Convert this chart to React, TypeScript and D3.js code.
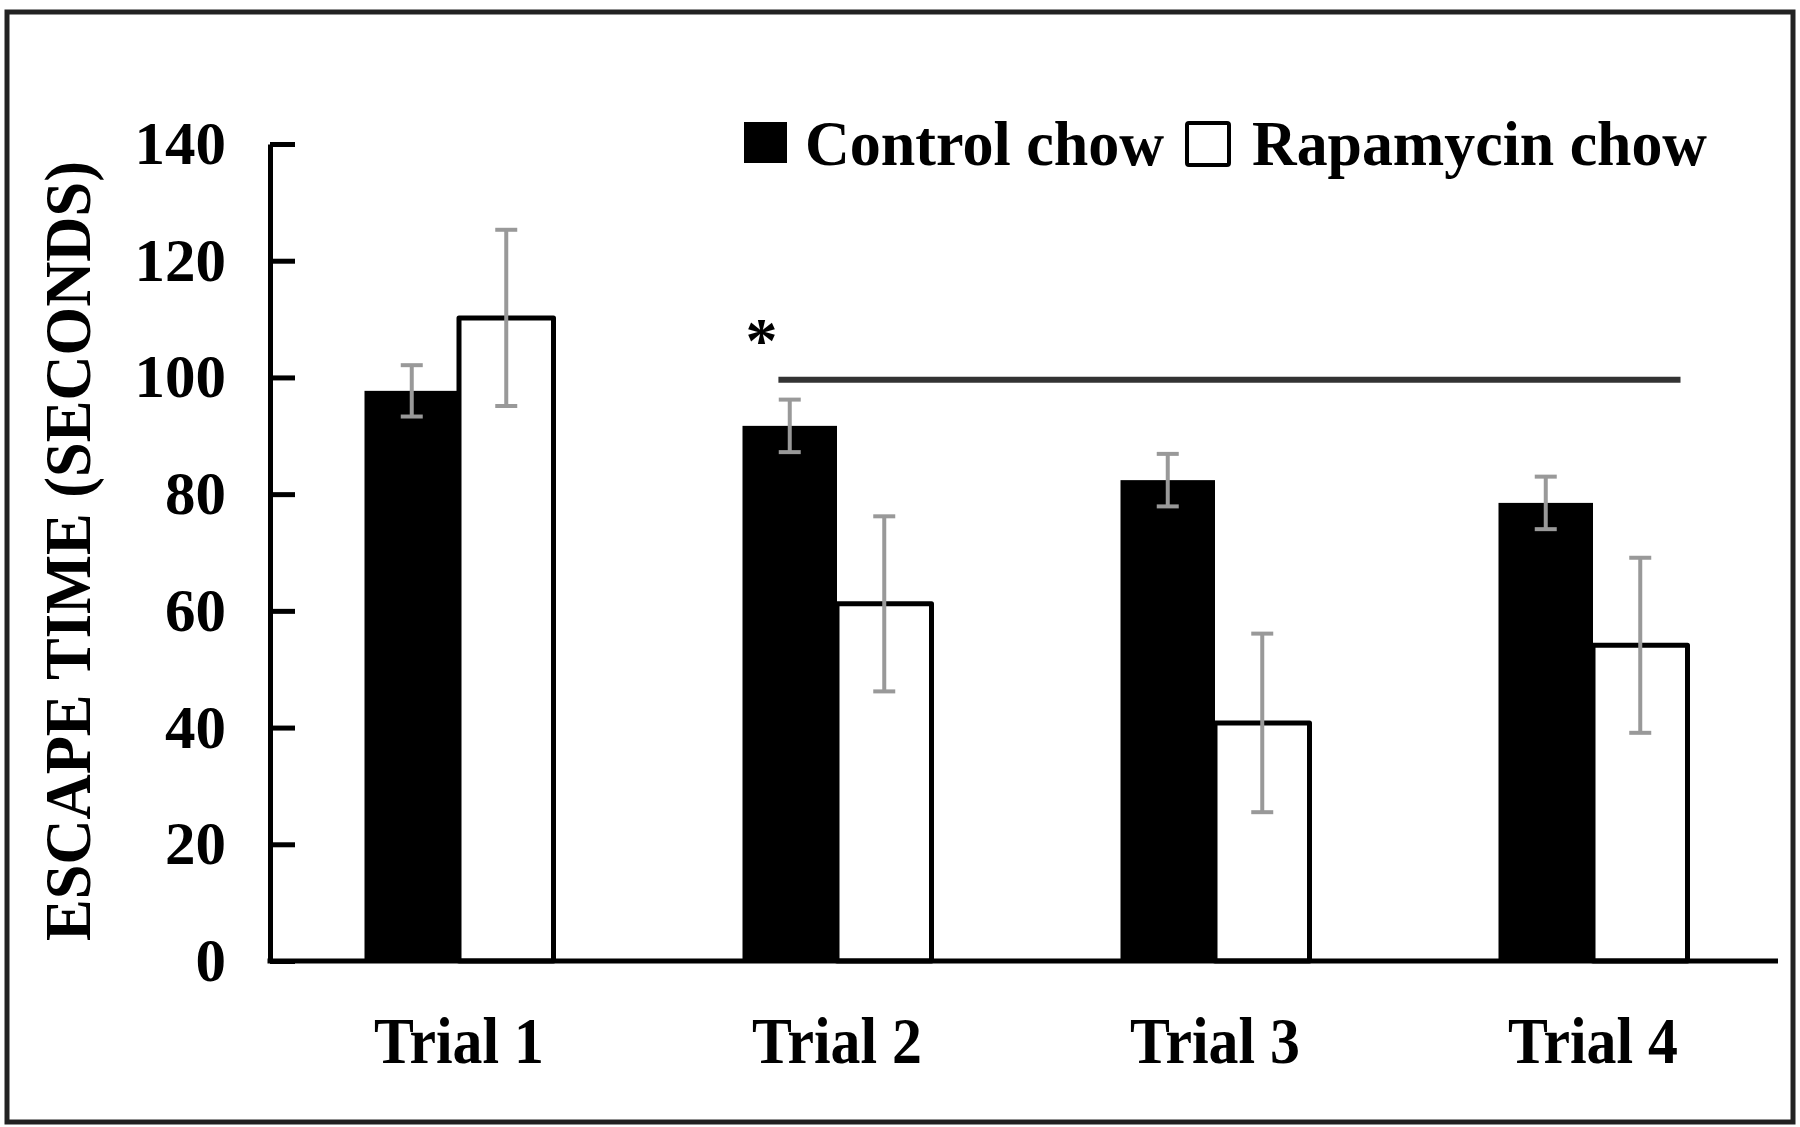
import { useRef, useEffect } from 'react';
import * as d3 from 'd3';

const trials = ['Trial 1', 'Trial 2', 'Trial 3', 'Trial 4'];
const groups = ['Control chow', 'Rapamycin chow'];
const controlMeans = [97.7, 91.7, 82.4, 78.5];
const controlErr = [4.4, 4.5, 4.5, 4.5];
const rapaMeans = [110.2, 61.2, 40.8, 54.1];
const rapaErr = [15.1, 15.0, 15.3, 15.0];
const yTicks = [0, 20, 40, 60, 80, 100, 120, 140];
const sigLevel = 99.6;

const FONT = '"Liberation Serif", "Times New Roman", serif';

const App = () => {
  const ref = useRef<SVGSVGElement>(null);

  useEffect(() => {
    if (!ref.current) return;
    const svg = d3.select(ref.current);
    svg.selectAll('*').remove();

    const left = 270;
    const y = d3.scaleLinear().domain([0, 140]).range([961, 144]);
    const x0 = d3.scaleBand().domain(trials).range([left, 1782]).paddingInner(0.5).paddingOuter(0.25);
    const x1 = d3.scaleBand().domain(groups).range([0, x0.bandwidth()]);

    // frame
    svg.append('rect')
      .attr('x', 7).attr('y', 12).attr('width', 1786).attr('height', 1110)
      .attr('fill', 'white').attr('stroke', '#222').attr('stroke-width', 5);

    const data = trials.map((t, i) => ({
      trial: t,
      vals: [
        { g: groups[0], v: controlMeans[i], e: controlErr[i] },
        { g: groups[1], v: rapaMeans[i], e: rapaErr[i] },
      ],
    }));

    const gr = svg.selectAll('g.grp').data(data).enter().append('g')
      .attr('transform', d => `translate(${x0(d.trial)},0)`);

    gr.selectAll('rect').data(d => d.vals).enter().append('rect')
      .attr('x', d => x1(d.g)!)
      .attr('y', d => y(d.v))
      .attr('width', x1.bandwidth())
      .attr('height', d => y(0) - y(d.v))
      .attr('fill', d => (d.g === groups[0] ? '#000' : '#fff'))
      .attr('stroke', '#000')
      .attr('stroke-width', d => (d.g === groups[0] ? 0 : 5))
      .attr('stroke-linejoin', 'round');

    // error bars
    const eb = gr.selectAll('g.eb').data(d => d.vals).enter().append('g')
      .attr('stroke', '#999').attr('stroke-width', 4);
    const cx = (d: { g: string }) => x1(d.g)! + x1.bandwidth() / 2;
    eb.append('line')
      .attr('x1', cx).attr('x2', cx)
      .attr('y1', d => y(d.v + d.e)).attr('y2', d => y(d.v - d.e));
    [1, -1].forEach(s => {
      eb.append('line')
        .attr('x1', d => cx(d) - 11).attr('x2', d => cx(d) + 11)
        .attr('y1', d => y(d.v + s * d.e)).attr('y2', d => y(d.v + s * d.e));
    });

    // y axis
    const ya = svg.append('g').attr('transform', `translate(${left},0)`)
      .call(d3.axisLeft(y).tickValues(yTicks).tickSizeInner(-25).tickSizeOuter(0).tickPadding(44));
    ya.select('.domain').attr('stroke', '#000').attr('stroke-width', 5);
    ya.selectAll('.tick line').attr('stroke', '#000').attr('stroke-width', 5);
    ya.selectAll('.tick text')
      .attr('font-family', FONT).attr('font-weight', 'bold').attr('font-size', 61).attr('fill', '#000');

    // x axis
    svg.append('line')
      .attr('x1', left - 2.5).attr('x2', 1778)
      .attr('y1', y(0)).attr('y2', y(0))
      .attr('stroke', '#000').attr('stroke-width', 5);

    svg.selectAll('text.xl').data(trials).enter().append('text')
      .attr('x', d => x0(d)! + x0.bandwidth() / 2)
      .attr('y', 1063)
      .attr('text-anchor', 'middle')
      .attr('font-family', FONT).attr('font-weight', 'bold').attr('font-size', 66)
      .attr('textLength', 170).attr('lengthAdjust', 'spacingAndGlyphs')
      .text(d => d);

    // y title
    svg.append('text')
      .attr('transform', `translate(90,551) rotate(-90)`)
      .attr('text-anchor', 'middle')
      .attr('font-family', FONT).attr('font-weight', 'bold').attr('font-size', 66)
      .attr('textLength', 780).attr('lengthAdjust', 'spacingAndGlyphs')
      .text('ESCAPE TIME (SECONDS)');

    // significance line
    const sx1 = x0('Trial 2')! + x0.bandwidth() * 0.19;
    const sx2 = x0('Trial 4')! + x0.bandwidth() - 7;
    svg.append('line')
      .attr('x1', sx1).attr('x2', sx2)
      .attr('y1', y(sigLevel)).attr('y2', y(sigLevel))
      .attr('stroke', '#333').attr('stroke-width', 6);
    svg.append('text')
      .attr('x', x0('Trial 2')! + 19).attr('y', y(sigLevel) - 18)
      .attr('text-anchor', 'middle')
      .attr('font-family', FONT).attr('font-weight', 'bold').attr('font-size', 64)
      .text('*');

    // legend
    const lg = svg.append('g');
    lg.append('rect').attr('x', 744).attr('y', 122).attr('width', 43).attr('height', 41).attr('fill', '#000');
    lg.append('text').attr('x', 805).attr('y', 165)
      .attr('font-family', FONT).attr('font-weight', 'bold').attr('font-size', 64)
      .attr('textLength', 359).attr('lengthAdjust', 'spacingAndGlyphs')
      .text(groups[0]);
    lg.append('rect').attr('x', 1187).attr('y', 123).attr('width', 42).attr('height', 42)
      .attr('fill', '#fff').attr('stroke', '#000').attr('stroke-width', 4).attr('rx', 2);
    lg.append('text').attr('x', 1252).attr('y', 165)
      .attr('font-family', FONT).attr('font-weight', 'bold').attr('font-size', 64)
      .attr('textLength', 455).attr('lengthAdjust', 'spacingAndGlyphs')
      .text(groups[1]);
  }, []);

  return (
    <svg
      ref={ref}
      width={1800}
      height={1127}
      style={{ position: 'absolute', left: 0, top: 0, background: '#fff' }}
    />
  );
};

export default App;
